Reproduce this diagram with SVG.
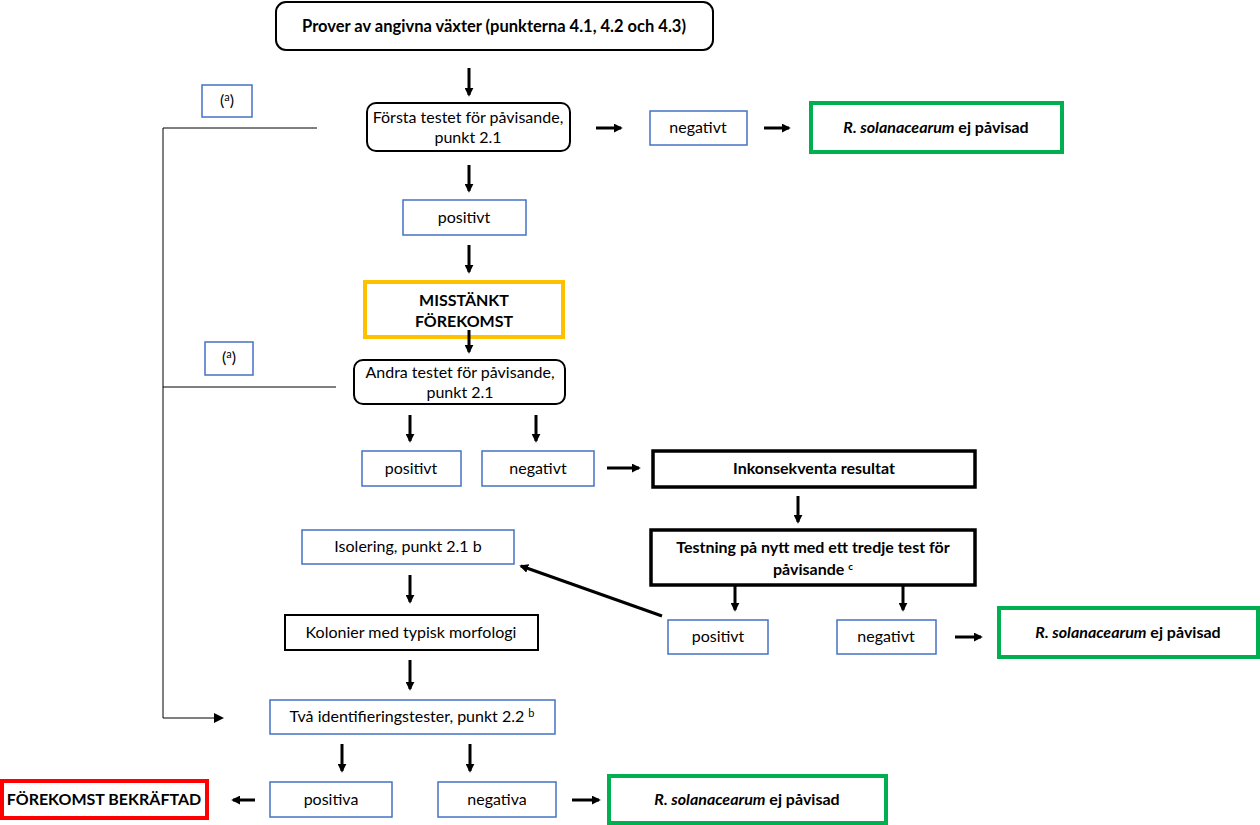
<svg xmlns="http://www.w3.org/2000/svg" width="1260" height="825" viewBox="0 0 1260 825">
<defs>
<marker id="ah" viewBox="0 0 10 10" refX="8" refY="5" markerWidth="3" markerHeight="3" orient="auto"><path d="M0,0 L10,5 L0,10 z" fill="#000"/></marker>
<marker id="ah2" viewBox="0 0 10 10" refX="8" refY="5" markerWidth="10" markerHeight="10" markerUnits="userSpaceOnUse" orient="auto"><path d="M0,0 L10,5 L0,10 z" fill="#000"/></marker>
<style>
text{font-family:Lato,"Open Sans","Liberation Sans",sans-serif;font-size:16px;fill:#000;text-anchor:middle}
.b{font-weight:bold}
.r{fill:#fff;stroke:#000;stroke-width:2}
.bl{fill:#fff;stroke:#4472c4;stroke-width:1.5}
.k{fill:#fff;stroke:#000;stroke-width:2}
.kk{fill:#fff;stroke:#000;stroke-width:3.5}
.g{fill:#fff;stroke:#00b050;stroke-width:4}
.y{fill:#fff;stroke:#ffc000;stroke-width:4}
.rd{fill:#fff;stroke:#ff0000;stroke-width:4}
.a{stroke:#000;stroke-width:3;fill:none;marker-end:url(#ah)}
.t{stroke:#000;stroke-width:1;fill:none}
</style>
</defs>
<g id="connectors">
<path class="t" d="M317,128 H163 V718 H222" marker-end="url(#ah2)"/>
<path class="t" d="M336,387 H163"/>
<path class="a" d="M469,68 V95"/>
<path class="a" d="M596,128 H621"/>
<path class="a" d="M764,128 H789"/>
<path class="a" d="M469,165 V191"/>
<path class="a" d="M469,245 V272"/>
<path class="a" d="M410,415 V441"/>
<path class="a" d="M536,415 V441"/>
<path class="a" d="M607,468 H639"/>
<path class="a" d="M798,496 V522"/>
<path class="a" d="M735,585 V610"/>
<path class="a" d="M903,585 V610"/>
<path class="a" d="M955,637 H981"/>
<path class="a" d="M662,616 L521,566"/>
<path class="a" d="M410,575 V602"/>
<path class="a" d="M410,660 V689"/>
<path class="a" d="M342,744 V771"/>
<path class="a" d="M470,744 V771"/>
<path class="a" d="M255,800 H233"/>
<path class="a" d="M572,800 H599"/>
</g>
<g id="n-top"><rect class="r" x="276" y="2" width="437" height="48" rx="10"/><text class="b" x="494" y="32" style="font-size:16.5px">Prover av angivna växter (punkterna 4.1, 4.2 och 4.3)</text></g>
<g id="n-a1"><rect class="bl" x="202" y="85" width="50" height="32"/><text x="227" y="106">(<tspan font-size="11" dy="-5">a</tspan><tspan dy="5">)</tspan></text></g>
<g id="n-first"><rect class="r" x="367" y="103" width="203" height="48" rx="9"/><text x="468" y="123">Första testet för påvisande,</text><text x="468" y="143">punkt 2.1</text></g>
<g id="n-neg1"><rect class="bl" x="650" y="111" width="97" height="34"/><text x="698" y="133">negativt</text></g>
<g id="n-ej1"><rect class="g" x="811" y="103" width="251" height="49"/><text class="b" x="936" y="133"><tspan font-style="italic">R. solanacearum</tspan> ej påvisad</text></g>
<g id="n-pos1"><rect class="bl" x="403" y="200" width="123" height="35"/><text x="464" y="223">positivt</text></g>
<g id="n-miss"><rect class="y" x="365" y="282" width="198" height="55"/><text class="b" x="464" y="306">MISSTÄNKT</text><text class="b" x="464" y="327">FÖREKOMST</text></g>
<path class="a" d="M469,330 V352"/>
<g id="n-a2"><rect class="bl" x="205" y="342" width="48" height="33"/><text x="229" y="363">(<tspan font-size="11" dy="-5">a</tspan><tspan dy="5">)</tspan></text></g>
<g id="n-second"><rect class="r" x="354" y="360" width="211" height="44" rx="9"/><text x="460" y="378">Andra testet för påvisande,</text><text x="460" y="398">punkt 2.1</text></g>
<g id="n-pos2"><rect class="bl" x="362" y="451" width="99" height="35"/><text x="411" y="474">positivt</text></g>
<g id="n-neg2"><rect class="bl" x="482" y="451" width="112" height="35"/><text x="538" y="474">negativt</text></g>
<g id="n-inkon"><rect class="kk" x="653" y="451" width="322" height="36"/><text class="b" x="814" y="474">Inkonsekventa resultat</text></g>
<g id="n-testning"><rect class="kk" x="651" y="530" width="324" height="55"/><text class="b" x="813" y="553">Testning på nytt med ett tredje test för</text><text class="b" x="813" y="575">påvisande <tspan font-size="10" dy="-5">c</tspan></text></g>
<g id="n-pos3"><rect class="bl" x="668" y="620" width="100" height="34"/><text x="718" y="642">positivt</text></g>
<g id="n-neg3"><rect class="bl" x="837" y="620" width="99" height="34"/><text x="886" y="642">negativt</text></g>
<g id="n-ej2"><rect class="g" x="999" y="608" width="259" height="49"/><text class="b" x="1128" y="638"><tspan font-style="italic">R. solanacearum</tspan> ej påvisad</text></g>
<g id="n-iso"><rect class="bl" x="302" y="530" width="212" height="34"/><text x="408" y="552">Isolering, punkt 2.1 b</text></g>
<g id="n-kol"><rect class="k" x="285" y="615" width="253" height="35"/><text x="411" y="638">Kolonier med typisk morfologi</text></g>
<g id="n-tva"><rect class="bl" x="270" y="700" width="285" height="34"/><text x="412" y="722">Två identifieringstester, punkt 2.2 <tspan font-size="11" dy="-5">b</tspan></text></g>
<g id="n-bekr"><rect class="rd" x="2" y="781" width="205" height="37"/><text class="b" x="104" y="805">FÖREKOMST BEKRÄFTAD</text></g>
<g id="n-posa"><rect class="bl" x="270" y="782" width="122" height="35"/><text x="331" y="805">positiva</text></g>
<g id="n-nega"><rect class="bl" x="438" y="782" width="118" height="35"/><text x="497" y="805">negativa</text></g>
<g id="n-ej3"><rect class="g" x="609" y="776" width="277" height="47"/><text class="b" x="747" y="805"><tspan font-style="italic">R. solanacearum</tspan> ej påvisad</text></g>
</svg>
